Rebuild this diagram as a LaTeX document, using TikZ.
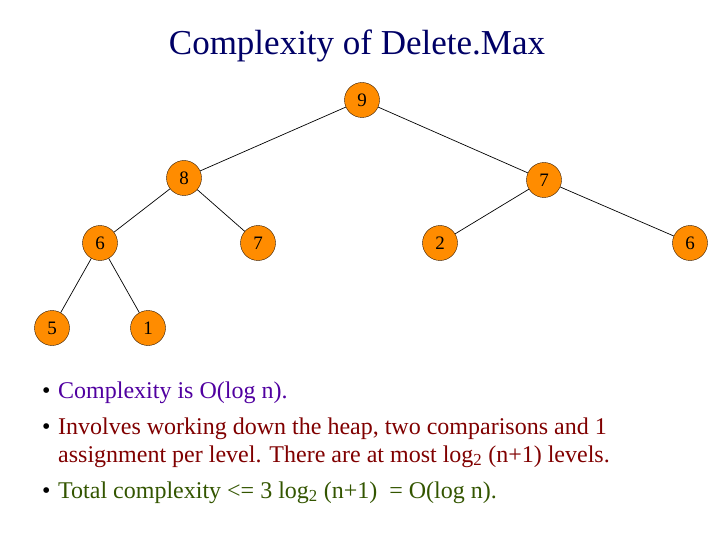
\documentclass[tikz,border=0pt]{standalone}
\usepackage{fontspec}
\setmainfont{Liberation Serif}
\begin{document}
\begin{tikzpicture}[x=1pt,y=-1pt,
  hn/.style={circle,draw=black!80!orange,fill=orange!90!yellow,minimum size=35pt,inner sep=0pt,font=\fontsize{19}{19}\selectfont},
  edge/.style={draw=black,line width=0.7pt},
  txt/.style={anchor=base west,font=\fontsize{24}{28}\selectfont,inner sep=0pt}]
\useasboundingbox (0,0) rectangle (720,540);
\definecolor{tcol}{RGB}{0,0,102}
\definecolor{pcol}{RGB}{80,0,160}
\definecolor{rcol}{RGB}{128,0,0}
\definecolor{gcol}{RGB}{51,85,0}
\node[anchor=base,font=\fontsize{35}{40}\selectfont,text=tcol,inner sep=0pt] (title) at (357,55) {Complexity of Delete.Max};
\node[hn] (n9) at (362,100) {9};
\node[hn] (n8) at (184,178) {8};
\node[hn] (n7) at (544,180) {7};
\node[hn] (n6) at (100,243) {6};
\node[hn] (n7b) at (258,243) {7};
\node[hn] (n2) at (440,243) {2};
\node[hn] (n6b) at (690,243) {6};
\node[hn] (n5) at (52,328) {5};
\node[hn] (n1) at (148,328) {1};
\draw[edge] (n9)--(n8); \draw[edge] (n9)--(n7);
\draw[edge] (n8)--(n6); \draw[edge] (n8)--(n7b);
\draw[edge] (n7)--(n2); \draw[edge] (n7)--(n6b);
\draw[edge] (n6)--(n5); \draw[edge] (n6)--(n1);
\node[txt] (b1) at (42,398) {•};
\node[txt,text=pcol] (t1) at (58,398) {Complexity is O(log n).};
\node[txt] (b2) at (42,434) {•};
\node[txt,text=rcol] (t2) at (58,434) {Involves working down the heap, two comparisons and 1};
\node[txt,text=rcol] (t2b) at (58,462) {assignment per level. There are at most log\textsubscript{2} (n+1) levels.};
\node[txt] (b3) at (42,498) {•};
\node[txt,text=gcol] (t3) at (58,498) {Total complexity <= 3 log\textsubscript{2} (n+1) \ = O(log n).};
\end{tikzpicture}
\end{document}
